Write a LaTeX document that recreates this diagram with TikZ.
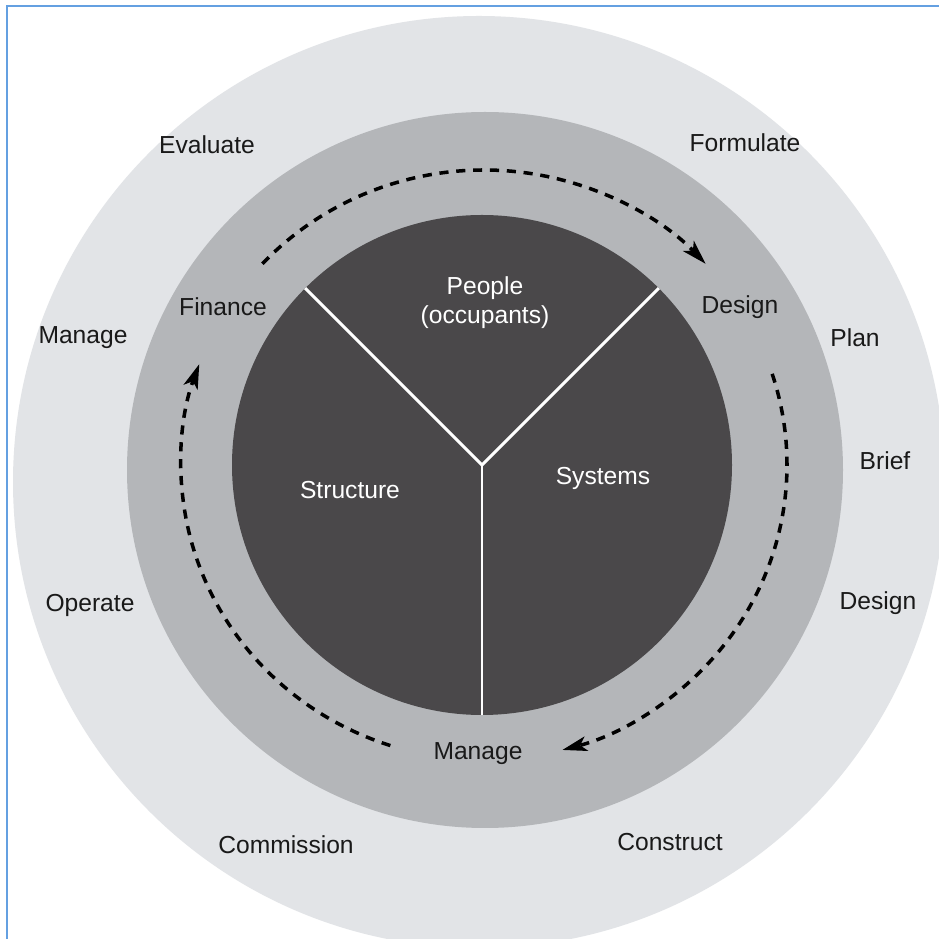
\documentclass[tikz,border=0pt]{standalone}
\usepackage{fontspec}
\setmainfont{Liberation Sans}
\usetikzlibrary{arrows.meta}
\definecolor{outerring}{RGB}{226,228,231}
\definecolor{midring}{RGB}{180,182,185}
\definecolor{core}{RGB}{74,72,74}
\definecolor{scanblue}{RGB}{100,160,225}
\tikzset{
  lbl/.style={font=\fontsize{7}{8.3}\selectfont, text=black!90},
  corelbl/.style={lbl, text=white, align=center},
  cyc/.style={line width=1pt, dash pattern=on 2.6pt off 2.2pt, -{Stealth[length=7pt,width=4.2pt,inset=1.8pt]}}
}
\begin{document}
\begin{tikzpicture}[x=.01cm,y=.01cm]
\useasboundingbox (0,0) rectangle (939,939);
\fill[white] (0,0) rectangle (939,939);
\begin{scope}
\clip (0,0) rectangle (939,939);
\fill[outerring] (479,457) circle (466);
\end{scope}
\fill[midring] (485,469) circle (358);
\fill[core] (482,474) circle (250);
\coordinate (hub) at (482,474);
\foreach \a in {45,135,270}
\draw[white,line width=.85pt] (hub)--++(\a:250);
% scan edge
\draw[scanblue,line width=.6pt] (7,0)--(7,933)--(939,933);
% cycle arrows
\coordinate (c) at (484,474);
\draw[cyc] (c) ++(137:303 and 295) arc[start angle=137,end angle=43,x radius=303,y radius=295];
\draw[cyc] (c) ++(18:303 and 295) arc[start angle=18,end angle=-75,x radius=303,y radius=295];
\draw[cyc] (c) ++(252:303 and 295) arc[start angle=252,end angle=160,x radius=303,y radius=295];
% core
\node[corelbl] (people) at (485,636) {People\\(occupants)};
\node[corelbl] (structure) at (350,449) {Structure};
\node[corelbl] (systems) at (603,461) {Systems};
% middle ring
\node[lbl] (finance) at (223,632) {Finance};
\node[lbl] (design) at (740,632) {Design};
\node[lbl] (manage) at (478,185) {Manage};
% outer ring
\node[lbl] (evaluate) at (207,794) {Evaluate};
\node[lbl] (formulate) at (745,796) {Formulate};
\node[lbl] (manageo) at (83,601) {Manage};
\node[lbl] (plan) at (855,601) {Plan};
\node[lbl] (brief) at (885,478) {Brief};
\node[lbl] (designo) at (878,336) {Design};
\node[lbl] (operate) at (90,334) {Operate};
\node[lbl] (commission) at (286,94) {Commission};
\node[lbl] (construct) at (670,97) {Construct};
\end{tikzpicture}
\end{document}
